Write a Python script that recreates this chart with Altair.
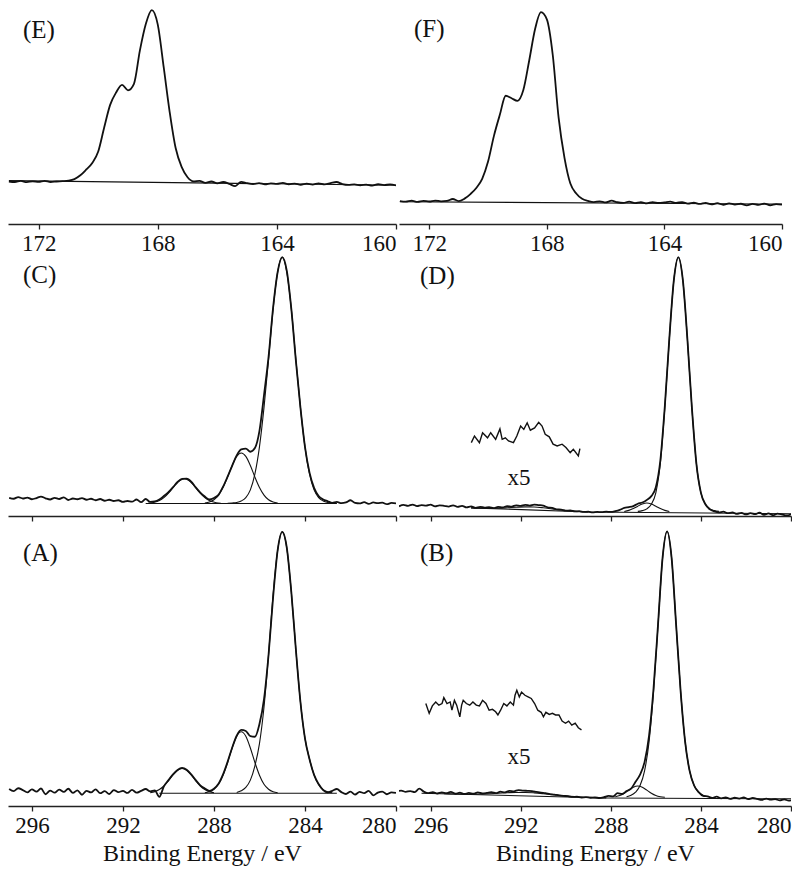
import altair as alt
import pandas as pd

FONT = "Liberation Serif"
INK = "#111111"

# ---------------- energy grids (sampling of the spectra, eV) ----------------
E_S2P = [round(173.0 - 0.2 * i, 1) for i in range(66)]        # 173.0 -> 160.0
E_C1S_L = [round(297.0 - 0.2 * i, 1) for i in range(86)]      # 297.0 -> 280.0
E_C1S_D = [round(297.4 - 0.2 * i, 1) for i in range(88)]      # 297.4 -> 280.0
E_C1S_B = [round(297.5 - 0.2 * i, 1) for i in range(89)]      # 297.5 -> 279.9

# ---------------- (E) S 2p ----------------
E_RAW = [0.5, 0.2, 0.8, 0.1, 0.6,
         0.3, 0.9, 0.2, 0.5, 0.7,
         1.0, 1.9, 4.1, 7.5, 11.3,
         18.0, 32.0, 45.2, 52.4, 56.9,
         53.7, 57.5, 77.0, 92.5, 100.5,
         92.0, 67.0, 41.0, 20.0, 9.0,
         3.0, 0.6, 0.8, -0.3, 0.5,
         -0.6, 0.2, -0.9, -2.2, 0.3,
         -0.5, -1.0, -0.4, -1.2, -0.6,
         -0.9, -0.3, -1.1, -0.7, -1.4,
         -0.8, -1.3, -0.6, -1.2, -0.5,
         0.2, -1.0, -1.5, -1.2, -1.7,
         -1.3, -1.9, -1.1, -1.6, -1.2,
         -1.8]
E_BG_E = [173.0, 160.0]
E_BG_I = [1.0, -1.7]

# ---------------- (F) S 2p ----------------
F_RAW = [0.3, 0.0, 0.5, -0.1, 0.4,
         0.1, 0.6, 0.2, 0.4, 1.4,
         0.3, 1.6, 4.0, 7.2, 12.0,
         21.0, 34.5, 45.5, 55.5, 54.2,
         52.8, 58.5, 74.0, 90.5, 99.3,
         95.5, 77.0, 44.0, 23.0, 9.5,
         4.3, 1.5, 0.4, -0.2, 0.2,
         -0.4, 0.5, -0.3, -0.6, 0.0,
         -0.8, -0.3, -0.9, -0.2, -0.7,
         -0.4, 0.0, -0.6, -0.2, -1.0,
         -0.5, -1.2, -0.6, -1.4, -0.8,
         -1.6, -0.9, -1.5, -1.1, -1.9,
         -1.2, -1.7, -1.0, -1.9, -1.3,
         -1.6]
F_BG_E = [173.0, 160.0]
F_BG_I = [0.0, -1.3]

# ---------------- (C) C 1s ----------------
C_RAW = [2.3, 1.9, 2.6, 2.0, 2.4,
         1.7, 2.2, 2.8, 2.1, 1.6,
         2.3, 1.8, 2.5, 1.4, 2.0,
         1.7, 2.2, 1.5, 1.9, 1.3,
         1.8, 1.1, 1.5, 1.0, 1.3,
         0.6, 1.0, 0.7, 1.6, 0.5,
         1.8, 0.6, 0.8, 1.6, 3.0,
         4.6, 6.6, 8.7, 10.0, 10.1,
         8.9, 6.5, 4.4, 2.8, 1.6,
         2.2, 3.5, 6.8, 10.9, 15.3,
         19.5, 22.0, 22.3, 21.0, 22.5,
         29.5, 44.0, 59.5, 79.5, 94.0,
         100.0, 94.5, 79.0, 58.0, 39.0,
         23.0, 12.5, 6.3, 3.0, 1.6,
         0.9, 0.2, 0.6, 0.1, 0.4,
         1.3, 0.2, 0.0, 0.5, -0.2,
         0.4, 0.1, 0.3, -0.3, 0.2,
         0.0]
C_MAIN_E = [287.4, 287.2, 287.0, 286.8, 286.6, 286.4, 286.2, 286.0, 285.8, 285.6, 285.4, 285.2, 285.0,
            284.8, 284.6, 284.4, 284.2, 284.0, 283.8, 283.6, 283.4, 283.2, 283.0, 282.8, 282.6]
C_MAIN_I = [0.1, 0.2, 0.4, 1.0, 2.4, 5.5, 12.0, 23.0, 39.0, 58.5, 79.0, 94.0, 100.0,
            94.0, 79.0, 58.5, 39.0, 23.0, 12.0, 5.5, 2.4, 1.0, 0.4, 0.2, 0.1]
C_C2_E = [288.4, 288.2, 288.0, 287.8, 287.6, 287.4, 287.2, 287.0, 286.8,
          286.6, 286.4, 286.2, 286.0, 285.8, 285.6, 285.4, 285.2]
C_C2_I = [0.2, 0.6, 1.5, 3.4, 6.5, 10.7, 15.4, 19.1, 20.5,
          19.1, 15.4, 10.7, 6.5, 3.4, 1.5, 0.6, 0.2]
C_C3_E = [290.9, 290.7, 290.5, 290.3, 290.1, 289.9, 289.7, 289.5, 289.3,
          289.1, 288.9, 288.7, 288.5, 288.3, 288.1, 287.9, 287.7]
C_C3_I = [0.1, 0.3, 0.75, 1.7, 3.2, 5.2, 7.5, 9.3, 10.0,
          9.3, 7.5, 5.2, 3.2, 1.7, 0.75, 0.3, 0.1]
C_BG_E = [291.0, 282.6]
C_BG_I = [0.0, 0.0]

# ---------------- (A) C 1s ----------------
A_RAW = [1.6, 0.8, 1.9, 1.2, 0.3,
         1.5, 0.6, 1.8, -0.4, 1.0,
         0.2, 1.4, 0.5, 1.7, 0.1,
         1.1, -0.6, 0.9, 0.3, 1.5,
         0.0, 0.8, -0.3, 1.2, 0.4,
         0.9, 0.1, 1.3, 0.2, 0.9,
         1.6, 0.7, 1.1, -1.4, 2.6,
         5.0, 7.2, 8.9, 9.7, 9.0,
         7.2, 5.0, 3.0, 1.8, 0.9,
         1.7, 3.6, 7.2, 12.0, 17.4,
         22.0, 24.2, 23.8, 21.8, 21.6,
         26.5, 36.0, 53.0, 75.0, 93.0,
         100.0, 94.0, 77.0, 55.0, 35.0,
         21.0, 13.0, 7.0, 3.5, 1.2,
         0.3, 0.9, 1.6, 0.4, -0.3,
         0.6, -0.5, 0.5, 0.0, 0.9,
         -0.8, 0.2, 0.6, -0.4, 0.3,
         0.1]
A_MAIN_E = [287.0, 286.8, 286.6, 286.4, 286.2, 286.0, 285.8, 285.6, 285.4, 285.2, 285.0,
            284.8, 284.6, 284.4, 284.2, 284.0, 283.8, 283.6, 283.4, 283.2, 283.0, 282.8]
A_MAIN_I = [0.3, 0.9, 2.2, 5.0, 10.5, 19.0, 33.0, 53.0, 76.0, 93.0, 100.0,
            94.0, 77.0, 55.0, 35.0, 21.0, 13.0, 7.0, 3.2, 1.3, 0.5, 0.2]
A_C2_E = [288.4, 288.2, 288.0, 287.8, 287.6, 287.4, 287.2, 287.0, 286.8,
          286.6, 286.4, 286.2, 286.0, 285.8, 285.6, 285.4, 285.2]
A_C2_I = [0.2, 0.55, 1.5, 3.4, 6.9, 11.75, 17.3, 21.8, 23.5,
          21.8, 17.3, 11.75, 6.9, 3.4, 1.5, 0.55, 0.2]
A_C3_E = [290.8, 290.6, 290.4, 290.2, 290.0, 289.8, 289.6, 289.4,
          289.2, 289.0, 288.8, 288.6, 288.4, 288.2, 288.0]
A_C3_I = [0.2, 0.6, 1.4, 2.75, 4.75, 7.0, 8.8, 9.5,
          8.8, 7.0, 4.75, 2.75, 1.4, 0.6, 0.2]
A_BG_E = [290.4, 282.6]
A_BG_I = [0.0, 0.0]

# ---------------- (D) C 1s ----------------
D_RAW = [2.2, 2.8,
         2.4, 2.9, 2.3, 2.7, 2.5,
         2.9, 2.2, 2.6, 2.4, 2.1,
         2.6, 2.0, 2.4, 1.8, 2.2,
         1.6, 2.0, 1.7, 1.9, 1.5,
         2.0, 1.8, 2.3, 2.1, 2.6,
         2.4, 2.8, 2.5, 2.9, 2.7,
         2.5, 1.8, 1.6, 1.0, 0.9,
         0.5, 0.6, 0.2, 0.3, 0.0,
         0.1, -0.2, 0.0, -0.1, 0.1,
         0.0, 0.3, 0.8, 1.6, 1.9,
         2.3, 3.2, 3.7, 4.7, 6.2,
         9.7, 20.2, 41.6, 68.2, 91.0,
         100.0, 91.0, 68.0, 41.0, 19.0,
         7.6, 3.0, 1.0, 0.2, -0.2,
         0.1, -0.5, -0.2, -0.8, -0.4,
         -1.0, -0.5, -0.9, -0.3, -1.1,
         -0.6, -1.3, -0.7, -1.0, -1.4,
         -0.9]
D_MAIN_E = [286.8, 286.6, 286.4, 286.2, 286.0, 285.8, 285.6, 285.4, 285.2, 285.0,
            284.8, 284.6, 284.4, 284.2, 284.0, 283.8, 283.6, 283.4, 283.2]
D_MAIN_I = [0.2, 0.5, 1.2, 3.0, 7.5, 19.0, 41.0, 68.0, 91.0, 100.0,
            91.0, 68.0, 41.0, 19.0, 7.5, 3.0, 1.2, 0.5, 0.2]
D_C2_E = [287.4, 287.2, 287.0, 286.8, 286.6, 286.4, 286.2, 286.0, 285.8, 285.6, 285.4]
D_C2_I = [0.2, 0.6, 1.3, 2.25, 3.1, 3.5, 3.1, 2.25, 1.3, 0.6, 0.2]
D_HUMP_E = [294.2, 293.8, 293.4, 293.0, 292.6, 292.2, 291.8, 291.4, 291.0, 290.6, 290.2, 289.8, 289.4, 289.0]
D_HUMP_I = [1.6, 1.51, 1.45, 1.48, 1.63, 1.84, 1.99, 1.93, 1.62, 1.17, 0.74, 0.41, 0.18, 0.0]
D_BG_E = [294.2, 289.0, 280.0]
D_BG_I = [1.6, 0.0, -0.7]
D_X5_E = [294.19, 294.05, 293.83, 293.69, 293.47, 293.33, 293.11, 292.92, 292.82, 292.68,
          292.54, 292.32, 292.17, 292.0, 291.86, 291.71, 291.57, 291.38, 291.2, 291.05,
          290.91, 290.73, 290.56, 290.38, 290.16, 289.99, 289.8, 289.66, 289.44, 289.37]
D_X5_I = [27.2, 29.8, 27.2, 31.1, 29.1, 31.1, 28.5, 32.6, 28.5, 29.1,
          27.9, 27.2, 29.8, 33.7, 32.4, 35.0, 32.1, 33.0, 35.2, 33.7,
          30.5, 29.5, 26.6, 25.9, 26.6, 25.3, 23.3, 24.6, 22.0, 24.9]

# ---------------- (B) C 1s ----------------
B_RAW = [2.3, 2.6, 2.1,
         2.4, 2.0, 3.3, 2.2, 1.6,
         2.0, 1.5, 1.9, 1.6, 2.1,
         1.4, 1.8, 1.3, 1.7, 1.4,
         1.9, 1.5, 1.7, 2.0, 1.6,
         2.2, 1.9, 2.5, 2.3, 2.8,
         2.6, 2.5, 2.4, 2.1, 1.8,
         1.6, 1.3, 1.1, 0.8, 0.6,
         0.5, 0.2, 0.3, 0.0, 0.1,
         -0.1, 0.0, -0.2, 0.1, 0.6,
         0.4, 1.6, 1.3, 2.4, 3.3,
         5.9, 8.6, 13.3, 23.2, 41.1,
         65.3, 90.1, 100.0, 90.0, 65.0,
         40.0, 21.0, 10.0, 4.5, 2.0,
         0.6, 0.4, -0.2, 0.3, -0.3,
         0.0, -0.5, -0.1, -0.4, 0.0,
         -0.6, -0.2, -0.5, -0.9, -0.4,
         -0.8, -0.6, -1.1, -0.7, -1.2,
         -0.9]
B_MAIN_E = [287.3, 287.1, 286.9, 286.7, 286.5, 286.3, 286.1, 285.9, 285.7, 285.5,
            285.3, 285.1, 284.9, 284.7, 284.5, 284.3, 284.1, 283.9, 283.7]
B_MAIN_I = [0.3, 0.8, 2.0, 4.5, 10.0, 21.0, 40.0, 65.0, 90.0, 100.0,
            90.0, 65.0, 40.0, 21.0, 10.0, 4.5, 2.0, 0.8, 0.3]
B_C2_E = [287.8, 287.6, 287.4, 287.2, 287.0, 286.8, 286.6, 286.4, 286.2, 286.0, 285.8, 285.6]
B_C2_I = [0.27, 0.73, 1.6, 2.75, 3.85, 4.3, 3.85, 2.75, 1.6, 0.73, 0.27, 0.08]
B_HUMP_E = [295.4, 295.0, 294.6, 294.2, 293.8, 293.4, 293.0, 292.6, 292.2, 291.8,
            291.4, 291.0, 290.6, 290.2, 289.8, 289.4, 289.0, 288.6, 288.2]
B_HUMP_I = [1.38, 1.32, 1.26, 1.24, 1.29, 1.41, 1.58, 1.77, 1.9, 1.9,
            1.73, 1.42, 1.05, 0.70, 0.40, 0.18, 0.03, -0.09, -0.2]
B_BG_E = [296.4, 288.2, 280.0]
B_BG_I = [1.6, -0.2, -0.5]
B_X5_E = [296.21, 296.06, 295.92, 295.77, 295.63, 295.49, 295.41, 295.27, 295.13, 295.05,
          294.94, 294.84, 294.7, 294.62, 294.55, 294.41, 294.26, 294.12, 293.97, 293.83,
          293.69, 293.54, 293.4, 293.25, 293.11, 293.01, 292.89, 292.75, 292.61, 292.46,
          292.32, 292.25, 292.17, 292.06, 291.96, 291.81, 291.67, 291.53, 291.38, 291.24,
          291.09, 290.99, 290.88, 290.73, 290.59, 290.45, 290.3, 290.16, 290.01, 289.87,
          289.73, 289.58, 289.44, 289.3]
B_X5_I = [35.3, 31.6, 34.4, 35.9, 34.7, 35.3, 37.5, 35.3, 35.9, 32.8,
          36.5, 34.7, 30.3, 34.7, 36.5, 35.3, 34.7, 35.9, 34.7, 34.4,
          36.5, 35.3, 32.8, 33.1, 32.2, 31.0, 32.8, 35.3, 34.4, 35.9,
          34.7, 38.4, 40.3, 37.8, 39.6, 38.4, 37.8, 37.2, 35.3, 32.8,
          32.0, 30.3, 32.0, 31.2, 31.6, 31.0, 31.0, 28.7, 27.9, 28.7,
          27.2, 27.9, 26.2, 25.4]

S2P_TICKS = [172, 168, 164, 160]
C1S_TICKS = [296, 292, 288, 284, 280]
X_TITLE = "Binding Energy / eV"

# ---------------- helpers ----------------
def axis_s2p():
    return alt.Axis(values=S2P_TICKS, tickSize=5, labelPadding=3, labelFlush=True,
                    labelOverlap=False, grid=False, title=None, format="d")

def axis_mid():
    return alt.Axis(values=C1S_TICKS, tickSize=5, labels=False, grid=False, title=None)

def axis_bottom():
    return alt.Axis(values=C1S_TICKS, tickSize=5, labelPadding=3, labelFlush=True,
                    labelOverlap=False, grid=False, title=X_TITLE, titlePadding=4, format="d")


def panel(series, xdom, ydom, w, h, xaxis, label, lab_xy, x5_xy=None):
    xs = alt.Scale(domain=xdom, nice=False, zero=False)
    ys = alt.Scale(domain=ydom, nice=False, zero=False)
    layers = []
    for es, vals, sw, interp in series:
        df = pd.DataFrame({"E": es, "I": vals})
        layers.append(
            alt.Chart(df).mark_line(color=INK, strokeWidth=sw, clip=True, interpolate=interp)
            .encode(x=alt.X("E:Q", scale=xs, axis=xaxis),
                    y=alt.Y("I:Q", scale=ys, axis=None))
        )
    layers.append(
        alt.Chart(pd.DataFrame({"t": [label]}))
        .mark_text(align="left", baseline="middle", font=FONT, fontSize=25, color=INK)
        .encode(text="t:N", x=alt.value(lab_xy[0]), y=alt.value(lab_xy[1]))
    )
    if x5_xy is not None:
        layers.append(
            alt.Chart(pd.DataFrame({"t": ["x5"]}))
            .mark_text(align="center", baseline="middle", font=FONT, fontSize=23, color=INK)
            .encode(text="t:N", x=alt.value(x5_xy[0]), y=alt.value(x5_xy[1]))
        )
    return alt.layer(*layers).properties(width=w, height=h)


RAW_W = 1.8
COMP_W = 1.1
M = "monotone"
L = "linear"

WL, WR, WF = 388, 392, 383
H1, H2, H3 = 216, 261, 284

pE = panel([(E_S2P, E_RAW, RAW_W, M), (E_BG_E, E_BG_I, COMP_W, L)],
           [173.03, 160.0], [-24.3, 101.7], WL, H1, axis_s2p(), "(E)", (15, 22))
pF = panel([(E_S2P, F_RAW, RAW_W, M), (F_BG_E, F_BG_I, COMP_W, L)],
           [173.03, 160.0], [-11.7, 101.5], WF, H1, axis_s2p(), "(F)", (15, 21))

pC = panel([(E_C1S_L, C_RAW, RAW_W, M), (C_MAIN_E, C_MAIN_I, COMP_W, M),
            (C_C2_E, C_C2_I, COMP_W, M), (C_C3_E, C_C3_I, COMP_W, M),
            (C_BG_E, C_BG_I, COMP_W, L)],
           [297.05, 280.0], [-5.1, 100.9], WL, H2, axis_mid(), "(C)", (15, 20))
pD = panel([(E_C1S_D, D_RAW, RAW_W, M), (D_MAIN_E, D_MAIN_I, COMP_W, M),
            (D_C2_E, D_C2_I, COMP_W, M), (D_HUMP_E, D_HUMP_I, COMP_W, M),
            (D_BG_E, D_BG_I, COMP_W, L), (D_X5_E, D_X5_I, 1.4, L)],
           [297.4, 280.0], [-1.6, 100.9], WR, H2, axis_mid(), "(D)", (21, 21), (120, 223))

pA = panel([(E_C1S_L, A_RAW, RAW_W, M), (A_MAIN_E, A_MAIN_I, COMP_W, M),
            (A_C2_E, A_C2_I, COMP_W, M), (A_C3_E, A_C3_I, COMP_W, M),
            (A_BG_E, A_BG_I, COMP_W, L)],
           [297.05, 280.0], [-4.9, 103.8], WL, H3, axis_bottom(), "(A)", (15, 31))
pB = panel([(E_C1S_B, B_RAW, RAW_W, M), (B_MAIN_E, B_MAIN_I, COMP_W, M),
            (B_C2_E, B_C2_I, COMP_W, M), (B_HUMP_E, B_HUMP_I, COMP_W, M),
            (B_BG_E, B_BG_I, COMP_W, L), (B_X5_E, B_X5_I, 1.4, L)],
           [297.4, 280.0], [-3.2, 103.5], WR, H3, axis_bottom(), "(B)", (21, 31), (120, 235))

row1 = alt.hconcat(pE, pF, spacing=2)
row2 = alt.hconcat(pC, pD, spacing=2)
row3 = alt.hconcat(pA, pB, spacing=2)

chart = (
    alt.vconcat(row1, row2, row3, spacing=0)
    .properties(padding={"left": 0, "top": 0, "right": 0, "bottom": 7}, background="white")
    .configure_view(stroke=None)
    .configure_axis(domainColor="#222222", tickColor="#222222", domainWidth=1.3, tickWidth=1.3,
                    labelColor=INK, titleColor=INK, labelFont=FONT, titleFont=FONT,
                    labelFontSize=23, titleFontSize=24, titleFontWeight="normal")
)

chart.save("out.html", embed_options={"renderer": "svg", "actions": False})
